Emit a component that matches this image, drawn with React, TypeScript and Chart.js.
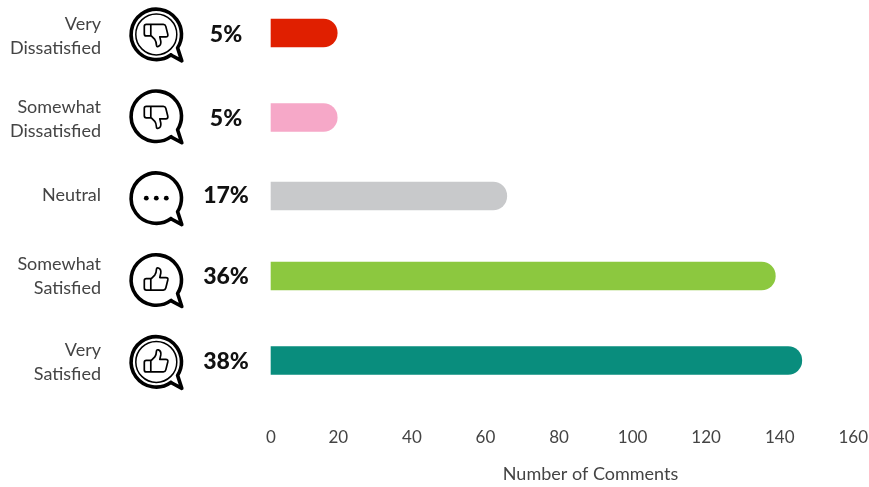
import React, { useEffect, useRef } from "react";
import { Chart, CategoryScale, registerables } from "chart.js";

const categories: (string | string[])[] = [
  ["Very", "Dissatisfied"],
  ["Somewhat", "Dissatisfied"],
  "Neutral",
  ["Somewhat", "Satisfied"],
  ["Very", "Satisfied"],
];
const comments = [19.7, 19.7, 65.8, 138.8, 146];
const shares = ["5%", "5%", "17%", "36%", "38%"];
const barColors = ["#E01F00", "#F6A8C8", "#C8C9CB", "#8CC83F", "#098D7D"];
const icons = ["down2", "down", "dots", "up", "up2"];
const tickValues = [0, 20, 40, 60, 80, 100, 120, 140, 160];
const axisTitle = "Number of Comments";

const FONT = "Lato, sans-serif";
const TEXT = "#444444";

// The value axis starts just past zero, so bars and the "0" tick sit on the plot's left edge.
const AXIS_START = 1.7;

// Hand-set row spacing: rows are not perfectly even, and their texts sit a little off the bar centre.
const ROW_SHIFT = [0, 2.6, -0.75, -2.6, 0];
const LABEL_SHIFT = [3.5, 1.5, -1, 0, 1.5];
const SHARE_SHIFT = [2, 1.5, 0, 1, 1.5];

class RowScale extends (CategoryScale as any) {
  static id = "rows";
  static defaults = (CategoryScale as any).defaults;
  evenPixel(i: number) {
    return super.getPixelForValue(i);
  }
  getPixelForValue(value: number) {
    const shift = ROW_SHIFT[Math.round(value)] ?? 0;
    return super.getPixelForValue(value) + shift;
  }
  _computeLabelItems(area: any) {
    const items = super._computeLabelItems(area);
    items.forEach((item: any, i: number) => {
      item.options.translation = [
        item.options.translation[0],
        item.options.translation[1] + LABEL_SHIFT[i],
      ];
    });
    return items;
  }
}

Chart.register(...registerables, RowScale as any);

// Thumb outline drawn pointing up, centred on the origin.
const THUMB = new Path2D(
  "M-10 -1.5 H-5.5 V10 H-10 Q-12 10 -12 8 V0.5 Q-12 -1.5 -10 -1.5 Z " +
    "M-5.5 -1 L-1.5 -5 Q0 -7 0.2 -11 Q0.4 -12.5 2 -12 Q5 -11 4.5 -7 L3.5 -2.5 H9.5 Q12 -2.5 11.5 0 L9.5 8 Q9 10 7 10 H-5.5"
);

function drawBubble(ctx: CanvasRenderingContext2D, kind: string) {
  ctx.strokeStyle = "#000";
  ctx.fillStyle = "#000";
  ctx.lineJoin = "round";
  ctx.lineCap = "round";
  ctx.lineWidth = 3.6;
  ctx.beginPath();
  ctx.arc(0, 0, 25.2, Math.PI * 0.3, Math.PI * 0.18 + Math.PI * 2);
  ctx.lineTo(25.5, 26.5);
  ctx.lineTo(14.6, 20.6);
  ctx.stroke();
  if (kind.endsWith("2")) {
    ctx.lineWidth = 1.5;
    ctx.beginPath();
    ctx.arc(0, 0, 20.5, 0, Math.PI * 2);
    ctx.stroke();
  }
  if (kind === "dots") {
    [-10, 0, 10].forEach((dx) => {
      ctx.beginPath();
      ctx.arc(dx, 0, 2.4, 0, Math.PI * 2);
      ctx.fill();
    });
    return;
  }
  ctx.lineWidth = 1.7;
  ctx.save();
  if (kind.startsWith("down")) ctx.scale(1, -1);
  ctx.stroke(THUMB);
  ctx.restore();
}

// Draws the speech-bubble icon and the share figure on each row, plus the axis caption.
const rowMarks = {
  id: "rowMarks",
  afterDatasetsDraw(chart: any) {
    const { ctx, scales } = chart;
    shares.forEach((share, i) => {
      ctx.save();
      ctx.translate(156.3, scales.y.evenPixel(i) + 1.4);
      drawBubble(ctx, icons[i]);
      ctx.restore();
      ctx.save();
      ctx.font = `900 23px ${FONT}`;
      ctx.fillStyle = "#111";
      ctx.textAlign = "center";
      ctx.textBaseline = "middle";
      ctx.fillText(share, 226, scales.y.getPixelForValue(i) + SHARE_SHIFT[i]);
      ctx.restore();
    });
    ctx.save();
    ctx.font = `400 18px ${FONT}`;
    ctx.fillStyle = TEXT;
    ctx.textAlign = "center";
    ctx.textBaseline = "middle";
    ctx.fillText(axisTitle, 590.5, 474);
    ctx.restore();
  },
};

export default function App() {
  const ref = useRef<HTMLCanvasElement>(null);
  useEffect(() => {
    const chart = new Chart(ref.current!, {
      type: "bar",
      plugins: [rowMarks],
      data: {
        labels: categories,
        datasets: [
          {
            data: comments,
            base: AXIS_START,
            backgroundColor: barColors,
            barThickness: 28,
            borderRadius: 14,
            clip: false,
          } as any,
        ],
      },
      options: {
        indexAxis: "y",
        animation: false,
        responsive: false,
        layout: { padding: { top: 33, right: 15.7, left: 0, bottom: 0 }, autoPadding: false },
        plugins: { legend: { display: false }, tooltip: { enabled: false } },
        scales: {
          x: {
            min: AXIS_START,
            max: 160,
            grid: { display: false },
            border: { display: false },
            afterBuildTicks(scale: any) {
              scale.ticks = tickValues.map((value) => ({ value: Math.max(value, AXIS_START) }));
            },
            ticks: {
              padding: 59,
              maxRotation: 0,
              color: TEXT,
              font: { family: FONT, size: 17 },
              callback: (value: any) => (value === AXIS_START ? "0" : String(value)),
            },
            afterFit(scale: any) {
              scale.height = 126.5;
              scale.paddingLeft = 0;
              scale.paddingRight = 0;
            },
          },
          y: {
            type: "rows",
            offset: false,
            grid: { display: false },
            border: { display: false },
            ticks: {
              padding: 162,
              autoSkip: false,
              color: TEXT,
              font: { family: FONT, size: 18, lineHeight: 1.33 },
            },
            afterFit(scale: any) {
              scale.width = 271;
              scale.paddingTop = 0;
              scale.paddingBottom = 0;
            },
          } as any,
        },
      },
    });
    return () => chart.destroy();
  }, []);
  return (
    <div style={{ position: "absolute", left: 0, top: 0, width: 869, height: 487 }}>
      <canvas ref={ref} width={869} height={487} style={{ display: "block" }} />
    </div>
  );
}
